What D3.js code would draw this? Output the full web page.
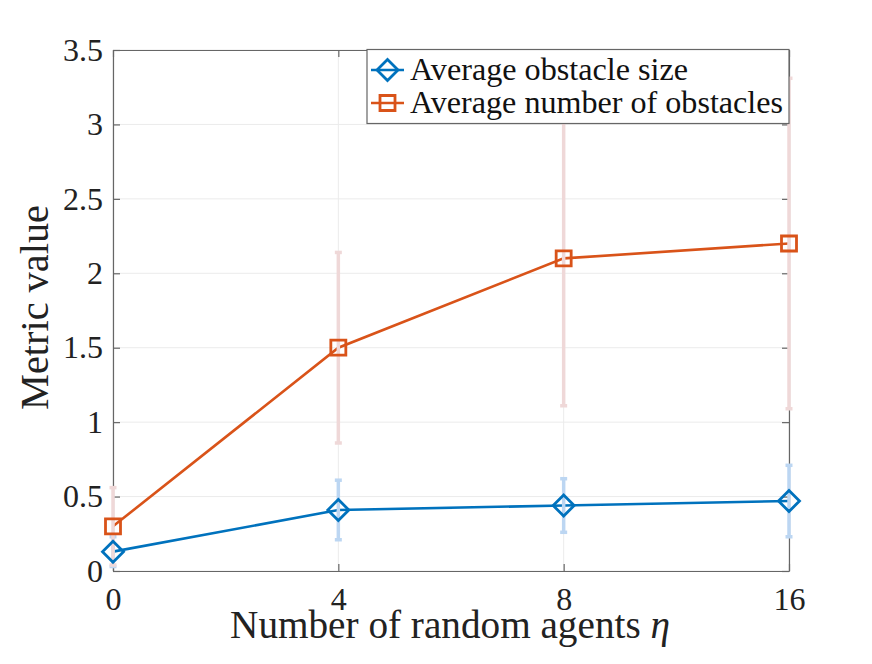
<!DOCTYPE html>
<html><head><meta charset="utf-8">
<script src="https://cdn.jsdelivr.net/npm/d3@7"></script>
<style>body{margin:0;background:#fff}svg{display:block}</style>
</head><body><svg id="c" width="872" height="664"></svg>
<script>
const categories = ["0","4","8","16"];
const sizeMean = [0.13, 0.41, 0.44, 0.47];
const sizeErr  = [0.10, 0.20, 0.18, 0.24];
const numMean  = [0.30, 1.50, 2.10, 2.20];
const numErr   = [0.26, 0.64, 0.99, 1.11];
const yTicks = [0, 0.5, 1, 1.5, 2, 2.5, 3, 3.5];
const seriesNames = ["Average obstacle size", "Average number of obstacles"];

const FONT = '"Liberation Serif"';
const svg = d3.select("#c");
const L = 113, R = 789, T = 50, B = 571;
const x = d3.scalePoint().domain(categories).range([L, R]).padding(0);
const y = d3.scaleLinear().domain([0, 3.5]).range([B, T]);

function fit(sel, target, base) {
  const w = sel.node().getComputedTextLength();
  if (w > 0) sel.attr("font-size", base * target / w);
}

// grid
const g = svg.append("g");
g.selectAll(".gy").data(yTicks).join("line")
  .attr("x1", L).attr("x2", R).attr("y1", d => y(d)).attr("y2", d => y(d))
  .attr("stroke", "#ebebeb").attr("stroke-width", 1);
g.selectAll(".gx").data(categories).join("line")
  .attr("x1", d => x(d)).attr("x2", d => x(d)).attr("y1", T).attr("y2", B)
  .attr("stroke", "#ebebeb").attr("stroke-width", 1);

// axes
const axL = d3.axisLeft(y).tickValues(yTicks).tickSizeInner(-7).tickSizeOuter(0).tickPadding(10).tickFormat(d3.format("~g"));
const axR = d3.axisRight(y).tickValues(yTicks).tickSizeInner(-7).tickSizeOuter(0).tickFormat("");
const axB = d3.axisBottom(x).tickSizeInner(-7).tickSizeOuter(0).tickPadding(16);
const axT = d3.axisTop(x).tickSizeInner(-7).tickSizeOuter(0).tickFormat("");
function style(sel){
  sel.attr("font-family", null);
  sel.select(".domain").attr("stroke", "#666").attr("stroke-width", 1.2);
  sel.selectAll(".tick line").attr("stroke", "#666").attr("stroke-width", 1.2);
  sel.selectAll(".tick text").attr("font-size", 32).attr("fill", "#222").style("font-family", FONT);
}
svg.append("g").attr("transform", `translate(${L},0)`).call(axL).call(style);
svg.append("g").attr("transform", `translate(${R},0)`).call(axR).call(style);
svg.append("g").attr("transform", `translate(0,${B})`).call(axB).call(style);
svg.append("g").attr("transform", `translate(0,${T})`).call(axT).call(style);

const series = [
  {mean: sizeMean, err: sizeErr, color: "#0072BD", light: "#bcd6f2", marker: "diamond"},
  {mean: numMean,  err: numErr,  color: "#D95319", light: "#efd8d8", marker: "square"}
];
const line = d3.line().x((d, i) => x(categories[i])).y(d => y(d));

series.forEach(s => {
  svg.append("path").datum(s.mean).attr("d", line)
    .attr("fill", "none").attr("stroke", s.color).attr("stroke-width", 2.6);
});
series.forEach(s => {
  const eg = svg.append("g").attr("stroke", s.light).attr("stroke-width", 3.5);
  s.mean.forEach((m, i) => {
    const cx = x(categories[i]);
    const lo = Math.max(0, m - s.err[i]), hi = m + s.err[i];
    eg.append("line").attr("x1", cx).attr("x2", cx).attr("y1", y(lo)).attr("y2", y(hi));
    [lo, hi].forEach(v => { if (v > 0) eg.append("line").attr("x1", cx - 3.5).attr("x2", cx + 3.5).attr("y1", y(v)).attr("y2", y(v)); });
  });
});
function markerPath(type, cx, cy){
  if (type === "diamond") { const r = 10.5; return `M${cx},${cy-r}L${cx+r},${cy}L${cx},${cy+r}L${cx-r},${cy}Z`; }
  const h = 7.5; return `M${cx-h},${cy-h}H${cx+h}V${cy+h}H${cx-h}Z`;
}
series.forEach(s => {
  s.mean.forEach((m, i) => {
    svg.append("path").attr("d", markerPath(s.marker, x(categories[i]), y(m)))
      .attr("fill", "none").attr("stroke", s.color).attr("stroke-width", 2.8);
  });
});

// legend
const lg = svg.append("g");
lg.append("rect").attr("x", 367).attr("y", 49.5).attr("width", 422).attr("height", 74)
  .attr("fill", "#fff").attr("stroke", "#666").attr("stroke-width", 1.2);
const legW = [278, 373];
series.forEach((s, i) => {
  const cy = 70 + i * 33;
  lg.append("line").attr("x1", 371).attr("x2", 404).attr("y1", cy).attr("y2", cy)
    .attr("stroke", s.color).attr("stroke-width", 2.6);
  lg.append("path").attr("d", markerPath(s.marker, 387.5, cy)).attr("fill", "none")
    .attr("stroke", s.color).attr("stroke-width", 2.8);
  const t = lg.append("text").attr("x", 410).attr("y", cy + 10).attr("font-size", 30)
    .attr("fill", "#111").style("font-family", FONT).text(seriesNames[i]);
  fit(t, legW[i], 30);
});

// axis labels
const xl = svg.append("text").attr("x", 450).attr("y", 638).attr("text-anchor", "middle")
  .attr("font-size", 36).attr("fill", "#222").style("font-family", FONT)
  .html('Number of random agents <tspan font-style="italic">η</tspan>');
fit(xl, 440, 36);
const yl = svg.append("text").attr("transform", `translate(48,${(205 + 410) / 2}) rotate(-90)`)
  .attr("text-anchor", "middle").attr("font-size", 38).attr("fill", "#222").style("font-family", FONT).text("Metric value");
fit(yl, 205, 38);
</script></body></html>
